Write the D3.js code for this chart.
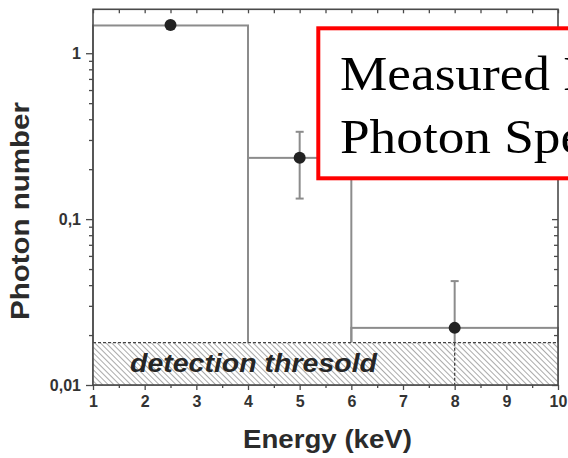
<!DOCTYPE html>
<html>
<head>
<meta charset="utf-8">
<script src="https://cdn.jsdelivr.net/npm/d3@7"></script>
<style>
  html, body { margin: 0; padding: 0; background: #fff; overflow: hidden; }
  svg { display: block; }
</style>
</head>
<body>
<svg id="chart" width="568" height="458"></svg>
<script>
// ---- data ----
const binEdges = [1, 4, 6, 10];
const binValues = [1.47, 0.234, 0.0221];
const pointEnergy = [2.5, 5, 8];
const pointValue = [1.48, 0.234, 0.0221];
const errLow = [null, 0.133, 0.01];
const errHigh = [null, 0.336, 0.0423];
const threshold = 0.018;
const thresholdLabel = "detection thresold";
const xTicks = [1, 2, 3, 4, 5, 6, 7, 8, 9, 10];
const xMinorTicks = [1.5, 2.5, 3.5, 4.5, 5.5, 6.5, 7.5, 8.5, 9.5];
const yTicks = [0.01, 0.1, 1];
const yTickLabels = ["0,01", "0,1", "1"];
const yMinorTicks = [0.02,0.03,0.04,0.05,0.06,0.07,0.08,0.09,0.2,0.3,0.4,0.5,0.6,0.7,0.8,0.9];
const xTitle = "Energy (keV)";
const yTitle = "Photon number";
const boxLines = ["Measured Energy", "Photon Spectrum"];

// ---- layout ----
const L = 93, R = 558, T = 9.3, B = 385;
const svg = d3.select("#chart");
const x = d3.scaleLinear().domain([1, 10]).range([L, R]);
const y = d3.scaleLog().domain([0.01, 1.84]).range([B, T]);

const axisColor = "#4a4a4a";
const barColor = "#8c8c8c";
const textColor = "#2b2b2b";

// hatch pattern
const defs = svg.append("defs");
const pat = defs.append("pattern")
  .attr("id", "hatch").attr("patternUnits", "userSpaceOnUse")
  .attr("width", 4).attr("height", 4)
  .attr("patternTransform", "rotate(-45)");
pat.append("rect").attr("width", 4).attr("height", 4).attr("fill", "#fff");
pat.append("line").attr("x1", 0).attr("y1", 0).attr("x2", 0).attr("y2", 4)
  .attr("stroke", "#707070").attr("stroke-width", 1.2);

// bars (outline rectangles from value down to axis bottom)
const bars = binValues.map((v, i) => ({ x0: binEdges[i], x1: binEdges[i + 1], v }));
svg.append("g").selectAll("rect").data(bars).join("rect")
  .attr("x", d => x(d.x0)).attr("width", d => x(d.x1) - x(d.x0))
  .attr("y", d => y(d.v)).attr("height", d => y(0.01) - y(d.v))
  .attr("fill", "none").attr("stroke", barColor).attr("stroke-width", 2);

// error bars (upper part solid)
const pts = pointEnergy.map((e, i) => ({ e, v: pointValue[i], lo: errLow[i], hi: errHigh[i] }));
const eg = svg.append("g").attr("stroke", barColor).attr("stroke-width", 2);
pts.filter(d => d.hi != null).forEach(d => {
  const lowEnd = Math.max(d.lo, threshold);
  eg.append("line").attr("x1", x(d.e)).attr("x2", x(d.e))
    .attr("y1", y(d.hi)).attr("y2", y(lowEnd));
  eg.append("line").attr("x1", x(d.e) - 4).attr("x2", x(d.e) + 4)
    .attr("y1", y(d.hi)).attr("y2", y(d.hi));
  if (d.lo >= threshold) {
    eg.append("line").attr("x1", x(d.e) - 4).attr("x2", x(d.e) + 4)
      .attr("y1", y(d.lo)).attr("y2", y(d.lo));
  }
});

// threshold band
svg.append("rect")
  .attr("x", x(1)).attr("width", x(10) - x(1))
  .attr("y", y(threshold)).attr("height", y(0.01) - y(threshold))
  .attr("fill", "url(#hatch)");
svg.append("line")
  .attr("x1", x(1)).attr("x2", x(10)).attr("y1", y(threshold)).attr("y2", y(threshold))
  .attr("stroke", "#444").attr("stroke-width", 1.3).attr("stroke-dasharray", "3,2");

// lower error below threshold (dashed)
pts.filter(d => d.lo != null && d.lo < threshold).forEach(d => {
  svg.append("line").attr("x1", x(d.e)).attr("x2", x(d.e))
    .attr("y1", y(threshold)).attr("y2", y(d.lo))
    .attr("stroke", "#444").attr("stroke-width", 1.3).attr("stroke-dasharray", "3,2");
});

svg.append("text")
  .attr("x", 130).attr("y", 371.5)
  .attr("textLength", 247).attr("lengthAdjust", "spacingAndGlyphs")
  .style("font-family", "Liberation Sans, Arial, sans-serif")
  .style("font-weight", "bold").style("font-style", "italic")
  .style("font-size", "25px").attr("fill", "#262626")
  .text(thresholdLabel);

// points
svg.append("g").selectAll("circle").data(pts).join("circle")
  .attr("cx", d => x(d.e)).attr("cy", d => y(d.v)).attr("r", 6)
  .attr("fill", "#222");

// ---- axes ----
function styleAxis(g) {
  g.select(".domain").remove();
  g.selectAll("line").attr("stroke", axisColor).attr("stroke-width", 1.3);
  g.selectAll("text")
    .style("font-family", "Liberation Sans, Arial, sans-serif")
    .style("font-weight", "bold").style("font-size", "16px")
    .attr("fill", "#333");
}
// bottom
svg.append("g").attr("transform", `translate(0,${B})`)
  .call(d3.axisBottom(x).tickValues(xTicks).tickSize(5).tickPadding(6).tickFormat(d3.format("d")))
  .call(styleAxis);
svg.append("g").attr("transform", `translate(0,${B})`)
  .call(d3.axisBottom(x).tickValues(xMinorTicks).tickSize(3).tickFormat(""))
  .call(styleAxis);
// top (inward)
svg.append("g").attr("transform", `translate(0,${T})`)
  .call(d3.axisBottom(x).tickValues(xTicks.concat(xMinorTicks)).tickSize(4).tickFormat(""))
  .call(styleAxis);
// left
svg.append("g").attr("transform", `translate(${L},0)`)
  .call(d3.axisLeft(y).tickValues(yTicks).tickSize(7).tickPadding(5)
    .tickFormat((d, i) => yTickLabels[i]))
  .call(styleAxis);
svg.append("g").attr("transform", `translate(${L},0)`)
  .call(d3.axisLeft(y).tickValues(yMinorTicks).tickSize(4).tickFormat(""))
  .call(styleAxis);
// right (inward)
svg.append("g").attr("transform", `translate(${R},0)`)
  .call(d3.axisLeft(y).tickValues(yTicks).tickSize(6).tickFormat(""))
  .call(styleAxis);
svg.append("g").attr("transform", `translate(${R},0)`)
  .call(d3.axisLeft(y).tickValues(yMinorTicks).tickSize(4).tickFormat(""))
  .call(styleAxis);

// frame
svg.append("rect").attr("x", L).attr("y", T).attr("width", R - L).attr("height", B - T)
  .attr("fill", "none").attr("stroke", axisColor).attr("stroke-width", 1.6);

// titles
svg.append("text")
  .attr("x", 327.5).attr("y", 448).attr("text-anchor", "middle")
  .attr("textLength", 169).attr("lengthAdjust", "spacingAndGlyphs")
  .style("font-family", "Liberation Sans, Arial, sans-serif")
  .style("font-weight", "bold").style("font-size", "25px").attr("fill", textColor)
  .text(xTitle);
svg.append("text")
  .attr("transform", "translate(28.5,211) rotate(-90)").attr("text-anchor", "middle")
  .attr("textLength", 218).attr("lengthAdjust", "spacingAndGlyphs")
  .style("font-family", "Liberation Sans, Arial, sans-serif")
  .style("font-weight", "bold").style("font-size", "26px").attr("fill", textColor)
  .text(yTitle);

// red annotation box
svg.append("rect").attr("x", 318.3).attr("y", 28.3).attr("width", 320).attr("height", 150)
  .attr("fill", "#fff").attr("stroke", "#ff0000").attr("stroke-width", 4);
svg.append("g").attr("transform", "translate(340,0) scale(1.11,1)")
  .selectAll("text").data(boxLines).join("text")
  .attr("x", 0).attr("y", (d, i) => 90 + i * 63)
  .style("font-family", "Liberation Serif, Times New Roman, serif")
  .style("font-size", "48px").attr("fill", "#000")
  .text(d => d);
</script>
</body>
</html>
